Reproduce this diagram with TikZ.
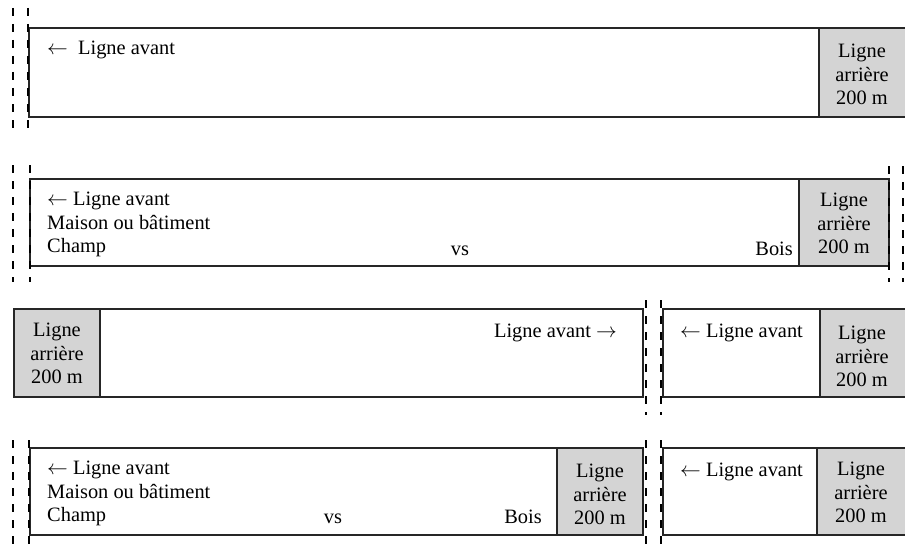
\documentclass[tikz,border=0pt]{standalone}
\usepackage{fontspec}
\setmainfont{Liberation Serif}
\begin{document}
\begin{tikzpicture}[x=1pt,y=-1pt,
    strip/.style={draw=black!85,line width=1.3pt},
    rear/.style={fill=black!17,draw=black!85,line width=1.3pt},
    limit/.style={black,line width=2.4pt,dash pattern=on 8pt off 8pt},
    lbl/.style={inner sep=0pt,font=\fontsize{20.4}{23.5}\selectfont},
    txt/.style={lbl,align=left,anchor=north west},
    reartxt/.style={lbl,align=center,anchor=north}]
\useasboundingbox (0,0) rectangle (905,551);

% row 1
\draw[strip] (29,28) rectangle (906,117);
\draw[rear] (819,28) rectangle (906,117);
\draw[limit] (13,8) -- (13,128);
\draw[limit] (28,8) -- (28,128);
\node[txt] (front1) at (47,41) {$\leftarrow$\hspace{0.5em}Ligne avant};
\node[reartxt] (back1) at (862,44) {Ligne\\arrière\\200 m};

% row 2
\draw[strip] (30,179) rectangle (889,266);
\draw[rear] (799,179) rectangle (889,266);
\draw[limit] (13,165) -- (13,282);
\draw[limit] (30,165) -- (30,282);
\draw[limit] (889,166) -- (889,282);
\draw[limit] (903,166) -- (903,282);
\node[txt] (front2) at (47,192) {$\leftarrow$ Ligne avant\\Maison ou bâtiment\\Champ};
\node[lbl,anchor=base] (vs2) at (460,255) {vs};
\node[lbl,anchor=base east] (wood2) at (793,255) {Bois};
\node[reartxt] (back2) at (844,193) {Ligne\\arrière\\200 m};

% row 3
\draw[strip] (14,309) rectangle (643,397);
\draw[rear] (14,309) rectangle (100,397);
\draw[strip] (663,309) rectangle (906,397);
\draw[rear] (820,309) rectangle (906,397);
\draw[limit] (646,300) -- (646,415);
\draw[limit] (661,300) -- (661,415);
\node[reartxt] (back3a) at (57,323) {Ligne\\arrière\\200 m};
\node[lbl,anchor=base east] (front3a) at (617,337) {Ligne avant $\rightarrow$};
\node[lbl,anchor=base west] (front3b) at (680,337) {$\leftarrow$ Ligne avant};
\node[reartxt] (back3b) at (862,326) {Ligne\\arrière\\200 m};

% row 4
\draw[strip] (30,448) rectangle (643,535);
\draw[rear] (557,448) rectangle (643,535);
\draw[strip] (663,448) rectangle (906,535);
\draw[rear] (817,448) rectangle (906,535);
\draw[limit] (13,440) -- (13,551);
\draw[limit] (29,440) -- (29,551);
\draw[limit] (646,440) -- (646,551);
\draw[limit] (661,440) -- (661,551);
\node[txt] (front4a) at (47,461) {$\leftarrow$ Ligne avant\\Maison ou bâtiment\\Champ};
\node[lbl,anchor=base] (vs4) at (333,523) {vs};
\node[lbl,anchor=base east] (wood4) at (542,523) {Bois};
\node[reartxt] (back4a) at (600,464) {Ligne\\arrière\\200 m};
\node[lbl,anchor=base west] (front4b) at (680,476) {$\leftarrow$ Ligne avant};
\node[reartxt] (back4b) at (861,462) {Ligne\\arrière\\200 m};
\end{tikzpicture}
\end{document}
